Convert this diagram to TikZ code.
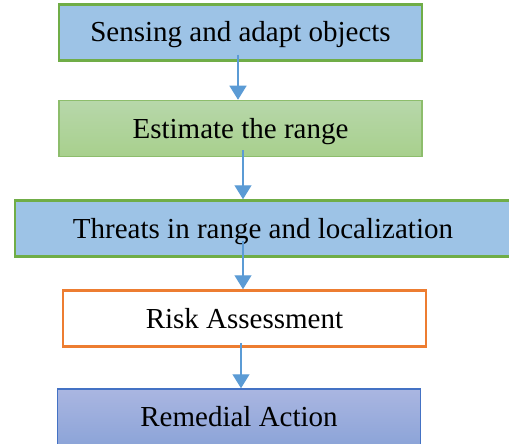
\documentclass[tikz,border=0pt]{standalone}
\usepackage{fontspec}
\setmainfont{Liberation Serif}
\usetikzlibrary{arrows.meta}
\definecolor{boxblue}{HTML}{9DC3E6}
\definecolor{edgegreen}{HTML}{70AD47}
\definecolor{greentop}{HTML}{B7D7AA}
\definecolor{greenbot}{HTML}{A8D08D}
\definecolor{edgeorange}{HTML}{ED7D31}
\definecolor{purpletop}{HTML}{AAB6E1}
\definecolor{purplebot}{HTML}{8CA4D8}
\definecolor{edgeblue}{HTML}{4472C4}
\definecolor{arrowblue}{HTML}{5B9BD5}
\begin{document}
\begin{tikzpicture}[x=1pt,y=-1pt,
  stage/.style={rectangle,inner sep=0pt,minimum height=56pt,
    font=\fontsize{29}{33}\selectfont,text=black,
    text height=21pt,text depth=2pt},
  bluebox/.style={stage,fill=boxblue,draw=edgegreen,line width=2.5pt},
  greenbox/.style={stage,top color=greentop,bottom color=greenbot,draw=edgegreen!80,line width=1.5pt},
  orangebox/.style={stage,fill=white,draw=edgeorange,line width=2.5pt},
  purplebox/.style={stage,top color=purpletop,bottom color=purplebot,draw=edgeblue,line width=1.5pt},
  flow/.style={draw=arrowblue,line width=1.3pt,-{Triangle[width=17pt,length=14pt]}}]
\useasboundingbox (0,0) rectangle (509,444);
\clip (0,0) rectangle (509,444);

\node[bluebox,minimum width=363pt]   (b1) at (240.5,32.5) {Sensing and adapt objects};
\node[greenbox,minimum width=363pt]  (b2) at (240.5,128.5) {Estimate the range};
\node[bluebox,minimum width=496pt]   (b3) at (263,228.5) {Threats in range and localization};
\node[orangebox,minimum width=363pt] (b4) at (244.5,318.5) {Risk Assessment};
\node[purplebox,minimum width=363pt] (b5) at (239,417) {Remedial Action};

\draw[flow] ([xshift=-2.5pt,yshift=7pt]b1.south) -- ([xshift=-2.5pt]b2.north);
\draw[flow] ([xshift=2.5pt,yshift=7pt]b2.south) -- ([xshift=2.5pt]b2.south |- b3.north);
\draw[flow] ([xshift=-20pt,yshift=17pt]b3.south) -- ([xshift=-20pt]b3.south |- b4.north);
\draw[flow] ([xshift=-3.5pt,yshift=5pt]b4.south) -- ([xshift=-3.5pt]b4.south |- b5.north);
\end{tikzpicture}
\end{document}
